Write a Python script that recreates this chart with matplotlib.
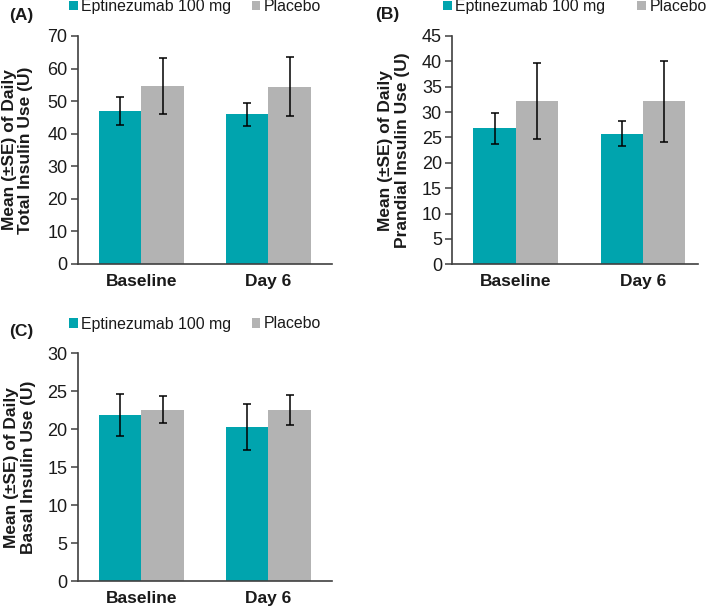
import matplotlib
matplotlib.use("Agg")
import matplotlib.pyplot as plt
import numpy as np

plt.rcParams['font.family'] = ['Liberation Sans', 'DejaVu Sans']

categories = ["Baseline", "Day 6"]
series_names = ["Eptinezumab 100 mg", "Placebo"]

# Panel A: total insulin
total_epti = [46.9, 45.9]
total_epti_se = [4.3, 3.5]
total_plac = [54.7, 54.4]
total_plac_se = [8.5, 9.1]

# Panel B: prandial insulin
prandial_epti = [26.8, 25.75]
prandial_epti_se = [3.0, 2.5]
prandial_plac = [32.25, 32.1]
prandial_plac_se = [7.5, 7.9]

# Panel C: basal insulin
basal_epti = [21.87, 20.25]
basal_epti_se = [2.8, 3.05]
basal_plac = [22.57, 22.57]
basal_plac_se = [1.8, 2.0]

TEAL = "#00A4AE"
GRAY = "#B3B3B3"
AXC = "#404040"
TXT = "#1a1a1a"

W, H = 709, 606
fig = plt.figure(figsize=(W / 100, H / 100), dpi=100)


def px_axes(left, top, right, bottom):
    return fig.add_axes([left / W, 1 - bottom / H, (right - left) / W, (bottom - top) / H])


def draw_panel(ax, epti, epti_se, plac, plac_se, ymax, ystep, xmax,
               label, ylabel_lines, ylabel_x, panel_xy, legend_x, legend_y, colspace):
    x = np.arange(len(categories)) + 0.5
    bw = 0.334
    ekw = dict(ecolor="black", elinewidth=1.1, capsize=3.0, capthick=1.1)
    ax.bar(x - bw / 2, epti, bw, yerr=epti_se, color=TEAL, error_kw=ekw,
           label=series_names[0], zorder=2)
    ax.bar(x + bw / 2, plac, bw, yerr=plac_se, color=GRAY, error_kw=ekw,
           label=series_names[1], zorder=2)
    ax.set_xlim(0, xmax)
    ax.set_ylim(0, ymax)
    ax.set_yticks(np.arange(0, ymax + 0.01, ystep))
    ax.set_xticks(x)
    ax.set_xticklabels(categories, fontsize=12.5, fontweight="bold", color=TXT)
    ax.tick_params(axis="x", length=0, pad=7)
    ax.tick_params(axis="y", length=5, width=1.1, color=AXC, pad=2.5,
                   labelsize=13, labelcolor=TXT, direction="out")
    for s in ["top", "right"]:
        ax.spines[s].set_visible(False)
    for s in ["left", "bottom"]:
        ax.spines[s].set_color(AXC)
        ax.spines[s].set_linewidth(1.2)
    # y label (two lines)
    pos = ax.get_position()
    fig.text(ylabel_x / W, pos.y0 + pos.height / 2, ylabel_lines, rotation=90,
             ha="center", va="center", fontsize=12.5, fontweight="bold",
             color=TXT, linespacing=1.15, multialignment="center")
    fig.text(panel_xy[0] / W, 1 - panel_xy[1] / H, label, ha="left", va="center",
             fontsize=12.5, fontweight="bold", color=TXT)
    handles, labels = ax.get_legend_handles_labels()
    handles = [h.patches[0] if hasattr(h, "patches") else h for h in handles]
    fig.legend(handles, labels, loc="center left",
               bbox_to_anchor=(legend_x / W, 1 - legend_y / H),
               bbox_transform=fig.transFigure, ncol=2, frameon=False,
               fontsize=11.4, handlelength=0.55, handleheight=0.55,
               handletextpad=0.2, columnspacing=colspace,
               borderpad=0, borderaxespad=0, labelcolor=TXT)


axA = px_axes(77.7, 36, 332, 264)
draw_panel(axA, total_epti, total_epti_se, total_plac, total_plac_se, 70, 10, 2.0,
           "(A)", "Mean (±SE) of Daily\nTotal Insulin Use (U)", 17.5, (9, 15.5),
           69, 6.5, 1.3)

axB = px_axes(452.3, 36, 697.7, 264.3)
draw_panel(axB, prandial_epti, prandial_epti_se, prandial_plac, prandial_plac_se,
           45, 5, 1.93,
           "(B)", "Mean (±SE) of Daily\nPrandial Insulin Use (U)", 394, (375, 15),
           443, 6.5, 2.05)

axC = px_axes(77.7, 353.3, 332, 581)
draw_panel(axC, basal_epti, basal_epti_se, basal_plac, basal_plac_se, 30, 5, 2.0,
           "(C)", "Mean (±SE) of Daily\nBasal Insulin Use (U)", 20, (9, 331.5),
           69, 324, 1.3)

fig.savefig("out.png", dpi=100)
